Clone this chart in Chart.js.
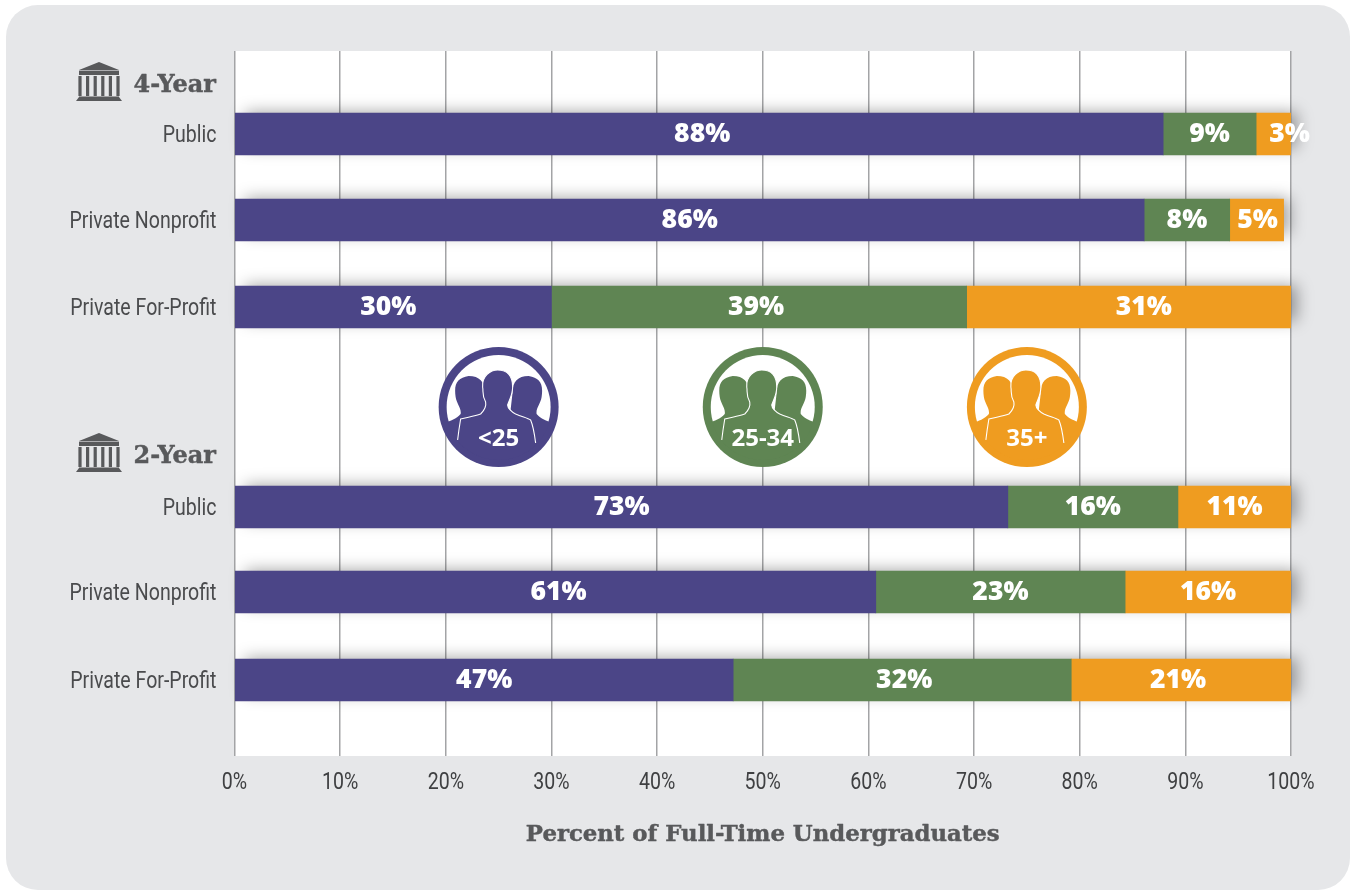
<!DOCTYPE html>
<html><head><meta charset="utf-8">
<style>
html,body{margin:0;padding:0;background:#fff;width:1356px;height:890px;overflow:hidden}
#panel{position:absolute;left:6px;top:5px;width:1344px;height:885px;background:#e6e7e9;border-radius:32px}
#wrap{position:absolute;left:0;top:0;width:1356px;height:890px}
</style>
<script src="https://cdn.jsdelivr.net/npm/chart.js@4/dist/chart.umd.min.js"></script>
</head><body>
<div id="panel"></div>
<div id="wrap"><canvas id="c" width="1356" height="890"></canvas></div>
<script>
const categories = ['Public','Private Nonprofit','Private For-Profit','Public','Private Nonprofit','Private For-Profit'];
const rowSlots = [83,169,256,456,541,629];
const under25 = [87.9,86.1,30.0,73.2,60.7,47.2];
const age25to34 = [8.8,8.1,39.3,16.1,23.6,32.0];
const age35plus = [3.3,5.1,30.7,10.7,15.7,20.8];
const under25Labels = ['88%','86%','30%','73%','61%','47%'];
const age25to34Labels = ['9%','8%','39%','16%','23%','32%'];
const age35plusLabels = ['3%','5%','31%','11%','16%','21%'];
const purpleNudge = [3,0,-5,0,3,0];
const greenNudge = [0,0,-3,0,0,2];
const orangeNudge = [16,1,15,0,0,-3];
const xTicks = [0,10,20,30,40,50,60,70,80,90,100];
const groupHeaders = ['4-Year','2-Year'];
const groupSlots = [33,404];
const ageGroups = ['<25','25-34','35+'];
const ageGroupX = [25,50,75];
const ageGroupSlot = 356;
const xTitle = 'Percent of Full-Time Undergraduates';
const PURPLE='#4b4587',GREEN='#5f8553',ORANGE='#ef9c20',INK='#58595b';
const sans='Roboto,"Liberation Sans",sans-serif';
const slab='"DejaVu Serif","Liberation Serif",serif';
const bold='"Open Sans","Noto Sans",sans-serif';

const canvas=document.getElementById('c');
const ctx0=canvas.getContext('2d');
// no condensed face is installed, so Roboto axis labels are squeezed; the slab text is thickened a little
const rawFillText=ctx0.fillText.bind(ctx0);
ctx0.fillText=function(t,x,y,m){
  if(/Roboto/.test(ctx0.font)){
    const dy=ctx0.textAlign==='right'?2:0;
    ctx0.save();ctx0.translate(x,y+dy);ctx0.scale(0.85,1);rawFillText(t,0,0);ctx0.restore();
  } else if(/DejaVu Serif/.test(ctx0.font)){
    ctx0.save();ctx0.strokeStyle=ctx0.fillStyle;ctx0.lineWidth=0.45;ctx0.lineJoin='round';
    ctx0.strokeText(t,x,y);rawFillText(t,x,y);ctx0.restore();
  } else if(m===undefined) rawFillText(t,x,y); else rawFillText(t,x,y,m);
};

function series(vals,color,labels,label,nudge){
  return {label,labels,nudge,backgroundColor:color,borderWidth:0,barThickness:42,
    data:vals.map((v,i)=>({x:v,y:rowSlots[i]}))};
}
function building(ctx,cx,top){
  ctx.fillStyle=INK;
  ctx.beginPath();ctx.moveTo(cx,top);ctx.lineTo(cx+20,top+8);ctx.lineTo(cx-20,top+8);ctx.closePath();ctx.fill();
  ctx.fillRect(cx-20,top+8.6,40,4.4);
  for(let k=-2.5;k<=2.5;k++) ctx.fillRect(cx+k*7.6-1.6,top+14,3.2,20);
  ctx.fillRect(cx-20,top+34.5,40,1.5);
  ctx.beginPath();ctx.moveTo(cx-20,top+35);ctx.lineTo(cx+20,top+35);ctx.lineTo(cx+23,top+39);ctx.lineTo(cx-23,top+39);ctx.closePath();ctx.fill();
}
function sidePerson(ctx,s){
  ctx.beginPath();
  ctx.moveTo(s*-56,17);
  ctx.bezierCurveTo(s*-50,14,s*-43,13,s*-38,7);
  ctx.bezierCurveTo(s*-37,1,s*-42,-3,s*-43,-10);
  ctx.bezierCurveTo(s*-45,-24,s*-41,-29,s*-30,-31);
  ctx.bezierCurveTo(s*-19,-31,s*-14,-25,s*-14,-15);
  ctx.lineTo(s*-10,20);ctx.lineTo(s*-10,60);ctx.lineTo(s*-60,60);ctx.closePath();
  ctx.fill();
}
function centerOutline(ctx){
  ctx.moveTo(-41,33);
  ctx.bezierCurveTo(-40,24,-39,18,-38,12);
  ctx.bezierCurveTo(-30,10,-24,9,-18,7);
  ctx.bezierCurveTo(-15,4,-12,0,-13,-5);
  ctx.bezierCurveTo(-17,-12,-15,-15,-16,-20);
  ctx.bezierCurveTo(-17,-31,-8,-37,-1,-37);
  ctx.bezierCurveTo(9,-37,14,-31,14,-20);
  ctx.bezierCurveTo(14,-12,11,-8,9,-2);
  ctx.bezierCurveTo(9,1,13,5,17,7);
  ctx.bezierCurveTo(24,10,29,11,32,13);
  ctx.bezierCurveTo(35,20,36,28,37,36);
}
function badge(ctx,cx,cy,color,text){
  ctx.save();
  ctx.translate(cx,cy);
  ctx.fillStyle=color;
  ctx.beginPath();ctx.arc(0,0,60,0,Math.PI*2);ctx.fill();
  ctx.fillStyle='#fff';
  ctx.beginPath();ctx.arc(0,0,52,0,Math.PI*2);ctx.fill();
  ctx.save();
  ctx.beginPath();ctx.arc(0,0,53,0,Math.PI*2);ctx.clip();
  ctx.fillStyle=color;
  sidePerson(ctx,1);sidePerson(ctx,-1);
  ctx.beginPath();centerOutline(ctx);ctx.lineTo(37,60);ctx.lineTo(-41,60);ctx.closePath();ctx.fill();
  ctx.strokeStyle='#fff';ctx.lineWidth=1.1;
  ctx.beginPath();centerOutline(ctx);ctx.stroke();
  ctx.restore();
  ctx.fillStyle='#fff';
  ctx.font='700 24px "Open Sans","Noto Sans",sans-serif';
  ctx.textAlign='center';ctx.textBaseline='middle';
  ctx.fillText(text,0,32);
  ctx.restore();
}
const decor={
  id:'decor',
  beforeDraw(chart){
    const {ctx,chartArea:a}=chart;
    ctx.save();ctx.fillStyle='#fff';ctx.fillRect(a.left,a.top,a.right-a.left,a.bottom-a.top);ctx.restore();
  },
  beforeDatasetsDraw(chart){
    const {ctx}=chart;
    const first=chart.getDatasetMeta(0).data, last=chart.getDatasetMeta(2).data;
    ctx.save();
    ctx.shadowColor='rgba(0,0,0,0.36)';ctx.shadowBlur=16;ctx.shadowOffsetX=6;ctx.shadowOffsetY=-7;
    ctx.fillStyle='#888';
    first.forEach((b,i)=>{
      const l=first[i].base,r=last[i].x,h=first[i].height;
      ctx.fillRect(l+4,b.y-h/2+6,r-l-4,h-6);
    });
    ctx.restore();
  },
  afterDatasetsDraw(chart){
    const {ctx,scales:{x,y}}=chart;
    ctx.save();
    ctx.textAlign='center';ctx.textBaseline='middle';ctx.fillStyle='#fff';
    ctx.font='800 26.5px '+bold;
    chart.data.datasets.forEach((ds,d)=>{
      chart.getDatasetMeta(d).data.forEach((b,i)=>{
        ctx.fillText(ds.labels[i],(b.base+b.x)/2+ds.nudge[i],b.y+0.5);
      });
    });
    ctx.textAlign='right';ctx.fillStyle=INK;ctx.font='700 24px '+slab;
    groupHeaders.forEach((t,i)=>{
      const py=y.getPixelForValue(groupSlots[i]);
      ctx.fillText(t,x.left-18.5,py+2);
      building(ctx,x.left-135.5,py-22);
    });
    const colors=[PURPLE,GREEN,ORANGE];
    ageGroups.forEach((t,i)=>badge(ctx,x.getPixelForValue(ageGroupX[i]),y.getPixelForValue(ageGroupSlot),colors[i],t));
    ctx.restore();
  }
};
new Chart(canvas,{
  type:'bar',
  data:{datasets:[
    series(under25,PURPLE,under25Labels,'<25',purpleNudge),
    series(age25to34,GREEN,age25to34Labels,'25-34',greenNudge),
    series(age35plus,ORANGE,age35plusLabels,'35+',orangeNudge)
  ]},
  plugins:[decor],
  options:{
    indexAxis:'y',responsive:false,animation:false,devicePixelRatio:1,
    layout:{padding:{top:51,right:65,left:0,bottom:0}},
    plugins:{legend:{display:false},tooltip:{enabled:false},title:{display:false}},
    scales:{
      x:{type:'linear',stacked:true,min:0,max:100,position:'bottom',
        afterBuildTicks(s){s.ticks=xTicks.map(v=>({value:v}));},
        afterFit(s){s.height=134;},
        grid:{color:'#a3a4a6',lineWidth:1.5,drawTicks:false},border:{display:false},
        ticks:{padding:13,maxRotation:0,autoSkip:false,color:'#3f4042',font:{family:sans,size:23},callback:v=>v+'%'},
        title:{display:true,text:xTitle,color:INK,font:{family:slab,size:22.8,weight:'700'},padding:{top:0,bottom:41}}
      },
      y:{type:'linear',stacked:true,reverse:true,min:0,max:705,position:'left',offset:false,
        afterBuildTicks(s){s.ticks=rowSlots.map(v=>({value:v}));},
        afterFit(s){s.width=234.5;},
        grid:{display:false,offset:false},border:{display:false},
        ticks:{padding:10,autoSkip:false,color:'#4a4b4d',font:{family:sans,size:23},
          callback:v=>categories[rowSlots.indexOf(v)]}
      }
    }
  }
});
</script>
</body></html>
